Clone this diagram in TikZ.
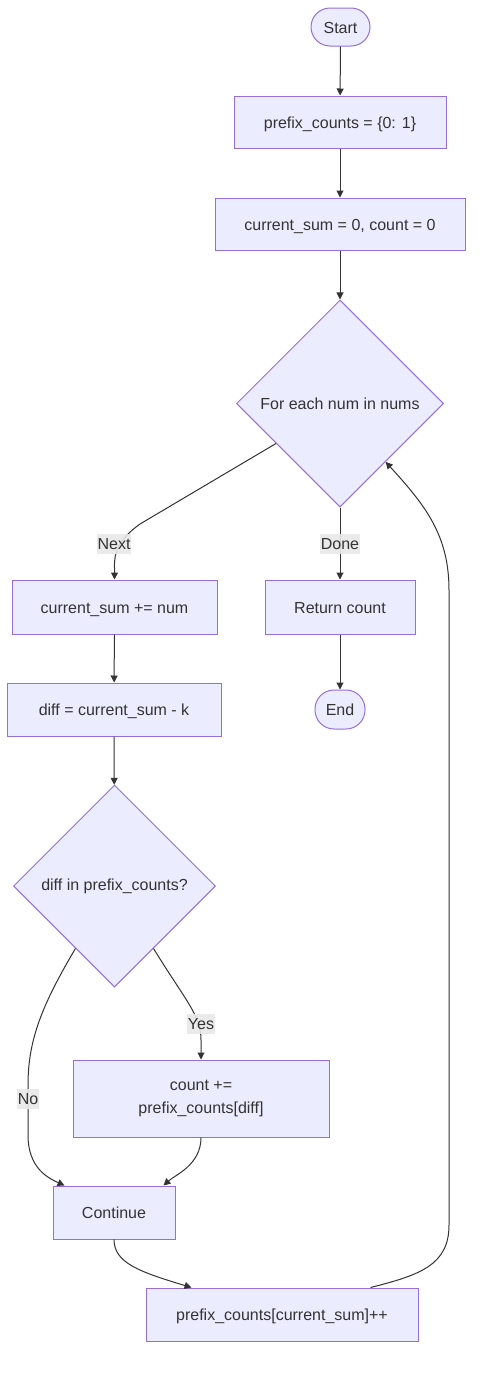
\documentclass[tikz,border=0pt]{standalone}
\usepackage{fontspec}
\setmainfont{Liberation Sans}
\usetikzlibrary{shapes.geometric,arrows.meta,calc}
\definecolor{nodefill}{HTML}{ECECFF}
\definecolor{nodeline}{HTML}{9370DB}
\definecolor{txt}{HTML}{333333}
\definecolor{lblbg}{HTML}{E8E8E8}
\tikzset{
  base/.style={draw=nodeline, fill=nodefill, line width=1pt, text=txt, inner sep=0pt, font=\fontsize{16}{23}\selectfont},
  proc/.style={base, rectangle, text height=13pt, text depth=1pt},
  term/.style={base, rectangle, rounded corners=19pt, text height=13pt, text depth=1pt},
  decide/.style={base, diamond, aspect=1},
  edge/.style={draw=txt, line width=1pt, -{Triangle[length=7pt,width=7pt]}},
  lbl/.style={fill=lblbg, fill opacity=0.9, text opacity=1, text=txt, inner xsep=1pt, inner ysep=4pt, font=\fontsize{16}{19}\selectfont}
}
\begin{document}
\begin{tikzpicture}[x=1pt,y=-1pt]
\useasboundingbox (0,0) rectangle (481,1373);
\fill[white] (0,0) rectangle (481,1373);
% nodes
\node[term, minimum width=59pt, minimum height=38pt] (start) at (340.5,27) {Start};
\node[proc, minimum width=212pt, minimum height=52pt] (pc) at (340,122) {prefix\_counts = \{0: 1\}};
\node[proc, minimum width=250pt, minimum height=52pt] (init) at (340,224) {current\_sum = 0, count = 0};
\node[decide, minimum width=207pt, minimum height=207pt] (loop) at (340,403.5) {For each num in nums};
\node[proc, minimum width=205pt, minimum height=54pt] (add) at (114.5,607) {current\_sum += num};
\node[proc, minimum width=150pt, minimum height=54pt] (ret) at (340,607) {Return count};
\node[proc, minimum width=214pt, minimum height=53pt] (diff) at (114,709.5) {diff = current\_sum - k};
\node[term, minimum width=50pt, minimum height=39pt] (end) at (340,709.5) {End};
\node[decide, minimum width=202pt, minimum height=202pt] (chk) at (114.5,886) {diff in prefix\_counts?};
\node[proc, text height={}, text depth={}, minimum width=256pt, minimum height=77pt, align=center] (cnt) at (201,1098.5) {count +=\\prefix\_counts[diff]};
\node[proc, minimum width=122pt, minimum height=53pt] (cont) at (114,1212.5) {Continue};
\node[proc, minimum width=272pt, minimum height=53pt] (inc) at (282,1314.5) {prefix\_counts[current\_sum]++};
% edges
\draw[edge] (start) -- (pc);
\draw[edge] (pc) -- (init);
\draw[edge] (init) -- (loop);
\draw[edge] (loop.212.6) -- (140,524) .. controls (118,540) and (114,552) .. (114.5,568) -- (add.north);
\draw[edge] (loop.south) -- (ret.north);
\draw[edge] (add) -- (diff);
\draw[edge] (diff) -- (chk);
\draw[edge] (ret) -- (end);
\draw[edge] (chk.238.2) .. controls (42,1005) and (28,1040) .. (28,1085) -- (28,1135) .. controls (28,1168) and (48,1178) .. ($(cont.north west)+(12,0)$);
\draw[edge] (chk.302.4) .. controls (185,1000) and (201,1015) .. (201,1040) -- (cnt.north);
\draw[edge] (cnt.south) .. controls (201,1165) and (175,1175) .. ($(cont.north east)+(-12,0)$);
\draw[edge] (cont.south) .. controls (114,1263) and (140,1272) .. ($(inc.north west)+(46,0)$);
\draw[edge] ($(inc.north east)+(-48,0)$) .. controls (420,1275) and (449,1265) .. (449,1225) -- (449,590) .. controls (449,535) and (425,505) .. (loop.308.5);
% labels
\node[lbl] (lnext) at (114,544) {Next};
\node[lbl] (ldone) at (340,544) {Done};
\node[lbl] (lyes) at (201,1024) {Yes};
\node[lbl] (lno) at (28,1099) {No};
\end{tikzpicture}
\end{document}
